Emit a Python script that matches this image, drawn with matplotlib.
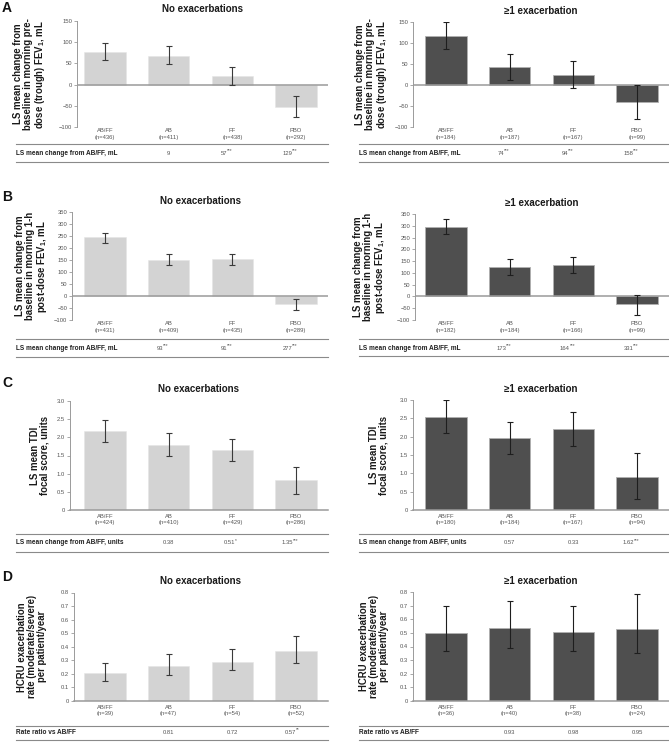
import matplotlib
matplotlib.use("Agg")
import matplotlib.pyplot as plt
from matplotlib.lines import Line2D

plt.rcParams['font.family'] = ['Liberation Sans', 'DejaVu Sans']
plt.rcParams['mathtext.fontset'] = 'custom'
plt.rcParams['mathtext.rm'] = 'Liberation Sans'
plt.rcParams['mathtext.bf'] = 'Liberation Sans:bold'
plt.rcParams['mathtext.it'] = 'Liberation Sans:italic'

W, H = 669, 743

groups = ["AB/FF", "AB", "FF", "PBO"]

# ---- A: trough FEV1 ----
a_no_n = [436, 411, 438, 292]
a_no_mean = [77, 68, 20, -52]
a_no_lo = [57, 48, 0, -77]
a_no_hi = [97, 90, 41, -28]
a_no_diff = ["9", "57***", "129***"]

a_ex_n = [184, 187, 167, 99]
a_ex_mean = [116, 43, 23, -41]
a_ex_lo = [86, 13, -8, -82]
a_ex_hi = [149, 75, 56, 1]
a_ex_diff = ["74***", "94***", "158***"]

# ---- B: 1-h post-dose FEV1 ----
b_no_n = [431, 409, 435, 289]
b_no_mean = [244, 150, 153, -33]
b_no_lo = [221, 130, 130, -58]
b_no_hi = [264, 173, 173, -11]
b_no_diff = ["93***", "91***", "277***"]

b_ex_n = [182, 184, 166, 99]
b_ex_mean = [296, 124, 134, -33]
b_ex_lo = [263, 93, 100, -77]
b_ex_hi = [330, 157, 168, 8]
b_ex_diff = ["173***", "164***", "331***"]

# ---- C: TDI focal score ----
c_no_n = [424, 410, 429, 286]
c_no_mean = [2.17, 1.79, 1.66, 0.83]
c_no_lo = [1.88, 1.49, 1.36, 0.45]
c_no_hi = [2.47, 2.11, 1.96, 1.19]
c_no_diff = ["0.38", "0.51*", "1.35***"]

c_ex_n = [180, 184, 167, 94]
c_ex_mean = [2.53, 1.96, 2.20, 0.91]
c_ex_lo = [2.09, 1.52, 1.74, 0.31]
c_ex_hi = [2.99, 2.41, 2.68, 1.55]
c_ex_diff = ["0.57", "0.33", "1.62***"]

# ---- D: HCRU exacerbation rate ----
d_no_n = [39, 47, 54, 52]
d_no_mean = [0.206, 0.258, 0.288, 0.368]
d_no_lo = [0.149, 0.191, 0.226, 0.283]
d_no_hi = [0.283, 0.343, 0.383, 0.48]
d_no_diff = ["0.81", "0.72", "0.57**"]

d_ex_n = [36, 40, 38, 24]
d_ex_mean = [0.50, 0.537, 0.507, 0.525]
d_ex_lo = [0.367, 0.392, 0.367, 0.352]
d_ex_hi = [0.694, 0.731, 0.70, 0.786]
d_ex_diff = ["0.93", "0.98", "0.95"]

ylab_fev_trough = "LS mean change from\nbaseline in morning pre-\ndose (trough) FEV$_\\mathbf{1}$, mL"
ylab_fev_post = "LS mean change from\nbaseline in morning 1-h\npost-dose FEV$_\\mathbf{1}$, mL"
ylab_tdi = "LS mean TDI\nfocal score, units"
ylab_hcru = "HCRU exacerbation\nrate (moderate/severe)\nper patient/year"

yt_fev_trough = [-100, -50, 0, 50, 100, 150]
yt_fev_post = [-100, -50, 0, 50, 100, 150, 200, 250, 300, 350]
yt_tdi = [0, 0.5, 1.0, 1.5, 2.0, 2.5, 3.0]
yt_tdi_lab = ["0", "0.5", "1.0", "1.5", "2.0", "2.5", "3.0"]
yt_hcru = [0, 0.1, 0.2, 0.3, 0.4, 0.5, 0.6, 0.7, 0.8]
yt_hcru_lab = ["0", "0.1", "0.2", "0.3", "0.4", "0.5", "0.6", "0.7", "0.8"]

LIGHT = "#d3d3d3"
DARK = "#4f4f4f"
GRID = "#9a9a9a"
TXT = "#555555"

fig = plt.figure(figsize=(W / 100, H / 100), dpi=100)


def fx(x):
    return x / W


def fy(y):
    return 1 - y / H


def panel(box, side, mean, lo, hi, ns, yticks, ylabels, ylab, ylab_x,
          title, row_label, diffs, table_y, pad, zero_line):
    l, t, r, b = box
    c0 = 105 if side == "left" else 446
    sp = 63.67
    ax = fig.add_axes([fx(l), fy(b), (r - l) / W, (b - t) / H])
    x = list(range(4))
    err = [[m - a for m, a in zip(mean, lo)], [c - m for m, c in zip(mean, hi)]]
    if side == "left":
        ax.bar(x, mean, width=0.65, color=LIGHT, edgecolor="#e6e6e6", linewidth=0.4, zorder=2)
        ecol = "#3a3a3a"
    else:
        ax.bar(x, mean, width=0.65, color=DARK, edgecolor="#b0b0b0", linewidth=0.6, zorder=2)
        ecol = "#1e1e1e"
    ax.errorbar(x, mean, yerr=err, fmt="none", ecolor=ecol, elinewidth=0.8,
                capsize=2.2, capthick=0.8, zorder=4)
    ax.set_xlim((l - c0) / sp, (r - c0) / sp)
    ax.set_ylim(yticks[0], yticks[-1])
    ax.set_yticks(yticks)
    ax.set_yticklabels(ylabels)
    ax.set_xticks(x)
    ax.set_xticklabels([g + "\n(n=" + str(n) + ")" for g, n in zip(groups, ns)],
                       fontsize=4.2, color=TXT, linespacing=1.3)
    ax.tick_params(axis="x", length=0, pad=pad)
    ax.tick_params(axis="y", length=2, width=0.6, color=GRID, labelsize=4.2,
                   labelcolor=TXT, pad=1.5)
    for s in ["top", "right"]:
        ax.spines[s].set_visible(False)
    ax.spines["left"].set_color(GRID)
    ax.spines["left"].set_linewidth(0.7)
    if zero_line:
        ax.spines["bottom"].set_visible(False)
        ax.axhline(0, color=GRID, linewidth=1.1, zorder=3)
    else:
        ax.spines["bottom"].set_color(GRID)
        ax.spines["bottom"].set_linewidth(1.1)
    ax.patch.set_alpha(0)

    # y label
    fig.text(fx(ylab_x), fy((t + b) / 2), ylab, rotation=90, ha="center",
             va="center", fontsize=6.9, fontweight="bold", color="#1a1a1a",
             linespacing=0.95, multialignment="center")
    # title
    fig.text(fx((l + r) / 2), fy(t - 11.5), title, ha="center", va="center",
             fontsize=7, fontweight="bold", color="#1a1a1a")

    # table under the chart
    top_line, text_y, bot_line = table_y
    x0 = 16 if side == "left" else 359
    xr = 328 if side == "left" else 669
    for yy in (top_line, bot_line):
        fig.add_artist(Line2D([fx(x0), fx(xr)], [fy(yy), fy(yy)],
                              color="#8a8a8a", linewidth=0.8))
    fig.text(fx(x0), fy(text_y), row_label, ha="left", va="center",
             fontsize=4.7, fontweight="bold", color="#222222")
    for i, d in enumerate(diffs):
        base = d.rstrip("*")
        stars = d[len(base):]
        # shift number left a little so number + stars sit centred on the column
        shift = -0.045 * len(stars)
        val = ax.annotate(base, xy=(i + 1 + shift, fy(text_y)),
                          xycoords=("data", "figure fraction"), ha="center",
                          va="center", fontsize=4.2, color=TXT,
                          annotation_clip=False)
        if stars:
            ax.annotate(stars, xy=(1.0, 0.55), xycoords=val, ha="left",
                        va="bottom", fontsize=3.4, color=TXT,
                        annotation_clip=False)
    return ax


row_ml = "LS mean change from AB/FF, mL"
row_units = "LS mean change from AB/FF, units"
row_rate = "Rate ratio vs AB/FF"
t_no = "No exacerbations"
t_ex = "\u22651 exacerbation"

fev_lab = [str(v) if v >= 0 else "\u2212" + str(-v) for v in yt_fev_trough]
post_lab = [str(v) if v >= 0 else "\u2212" + str(-v) for v in yt_fev_post]

# A
panel((77, 21, 328, 127), "left", a_no_mean, a_no_lo, a_no_hi, a_no_n,
      yt_fev_trough, fev_lab, ylab_fev_trough, 30, t_no, row_ml, a_no_diff,
      (144, 153.5, 162), 1.0, True)
panel((413, 22, 669, 127), "right", a_ex_mean, a_ex_lo, a_ex_hi, a_ex_n,
      yt_fev_trough, fev_lab, ylab_fev_trough, 372, t_ex, row_ml, a_ex_diff,
      (144, 153.5, 162), 1.0, True)

# B
panel((72, 212, 328, 320), "left", b_no_mean, b_no_lo, b_no_hi, b_no_n,
      yt_fev_post, post_lab, ylab_fev_post, 32, t_no, row_ml, b_no_diff,
      (339, 348, 357), 1.0, True)
panel((415, 214, 669, 320), "right", b_ex_mean, b_ex_lo, b_ex_hi, b_ex_n,
      yt_fev_post, post_lab, ylab_fev_post, 370, t_ex, row_ml, b_ex_diff,
      (339, 348, 356), 1.0, True)

# C
panel((70, 401, 328, 510), "left", c_no_mean, c_no_lo, c_no_hi, c_no_n,
      yt_tdi, yt_tdi_lab, ylab_tdi, 40, t_no, row_units, c_no_diff,
      (534, 543, 552), 3.0, False)
panel((413, 400, 669, 510), "right", c_ex_mean, c_ex_lo, c_ex_hi, c_ex_n,
      yt_tdi, yt_tdi_lab, ylab_tdi, 379, t_ex, row_units, c_ex_diff,
      (534, 543, 552), 3.0, False)

# D
panel((74, 592.5, 328, 701), "left", d_no_mean, d_no_lo, d_no_hi, d_no_n,
      yt_hcru, yt_hcru_lab, ylab_hcru, 32, t_no, row_rate, d_no_diff,
      (725.5, 732.5, 740), 3.0, False)
panel((413, 592, 669, 701), "right", d_ex_mean, d_ex_lo, d_ex_hi, d_ex_n,
      yt_hcru, yt_hcru_lab, ylab_hcru, 374, t_ex, row_rate, d_ex_diff,
      (725.5, 732.5, 740), 3.0, False)

# panel letters
for letter, yy in [("A", 8), ("B", 197), ("C", 383), ("D", 577)]:
    fig.text(fx(2), fy(yy), letter, ha="left", va="center", fontsize=10,
             fontweight="bold", color="#111111")

fig.savefig("out.png", dpi=100)
